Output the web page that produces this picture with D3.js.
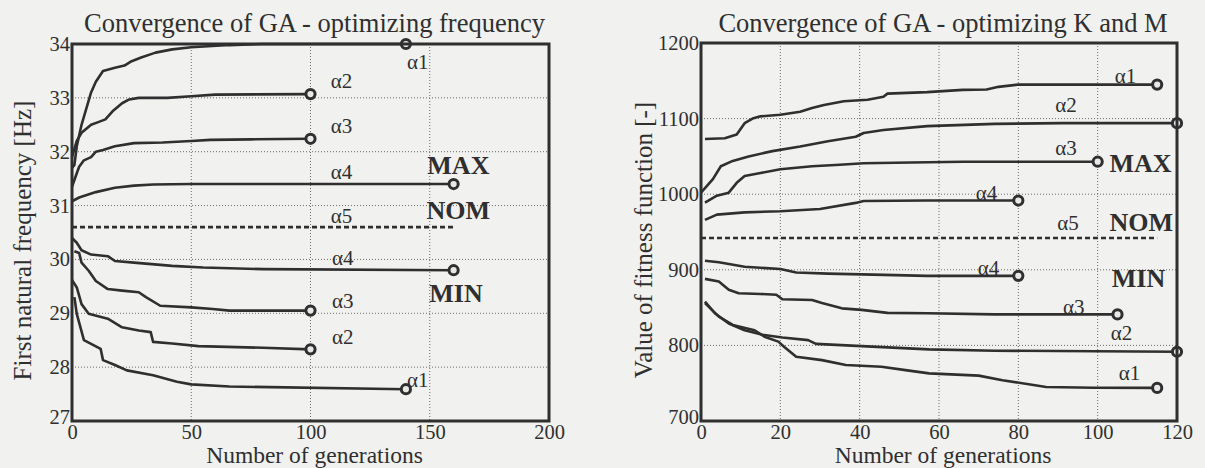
<!DOCTYPE html>
<html lang="en">
<head>
    <meta charset="UTF-8">
    <title>Convergence of GA</title>
    <script src="https://d3js.org/d3.v7.min.js"></script>
    <style>
        body { margin: 0; background: #f1f1f0; }
        svg { display: block; }
    </style>
</head>
<body>
    <svg id="chart"></svg>

    <script>
        // ---- data: [generation, value] ----
        // left panel - optimizing frequency [Hz]
        const freqMaxA1 = [[0,31.7],[1,31.75],[2,32.1],[4,32.5],[6,32.8],[8,33.1],[10,33.3],[13,33.5],[18,33.56],[22,33.6],[25,33.68],[29,33.75],[35,33.84],[42,33.9],[50,33.94],[66,33.98],[80,34.0],[140,34.0]];
        const freqMaxA2 = [[0,31.9],[2,32.2],[4,32.35],[8,32.5],[11,32.55],[14,32.6],[17,32.75],[21,32.9],[24,32.97],[28,33.0],[40,33.0],[50,33.03],[60,33.06],[100,33.07]];
        const freqMaxA3 = [[0,31.35],[2,31.6],[3,31.72],[5,31.84],[8,31.9],[10,32.0],[13,32.03],[18,32.1],[26,32.16],[38,32.17],[50,32.2],[58,32.22],[75,32.23],[100,32.24]];
        const freqMaxA4 = [[0,31.08],[3,31.15],[10,31.25],[18,31.33],[26,31.37],[34,31.39],[50,31.4],[160,31.4]];
        const freqNom = [[0,30.6],[160,30.6]];
        const freqMinA4 = [[0,30.4],[2,30.31],[4,30.17],[8,30.09],[15,30.06],[18,29.97],[26,29.94],[42,29.88],[55,29.85],[80,29.82],[160,29.8]];
        const freqMinA3 = [[1,30.15],[3,30.12],[4,29.94],[7,29.79],[10,29.6],[15,29.45],[21,29.42],[28,29.39],[31,29.3],[37,29.14],[50,29.11],[59,29.08],[66,29.05],[100,29.05]];
        const freqMinA2 = [[0,29.62],[2,29.48],[4,29.17],[7,28.99],[15,28.9],[21,28.74],[28,28.68],[33,28.65],[34,28.47],[42,28.44],[53,28.39],[80,28.36],[100,28.33]];
        const freqMinA1 = [[1,29.3],[2,28.99],[5,28.5],[12,28.34],[13,28.13],[18,28.04],[23,27.94],[34,27.85],[44,27.73],[50,27.68],[66,27.64],[140,27.59]];

        // right panel - optimizing K and M, fitness function [-]
        const fitMaxA1 = [[1,1073],[6,1074],[9,1079],[11,1094],[13,1100],[15,1103],[20,1105],[25,1109],[28,1114],[31,1118],[36,1123],[42,1125],[46,1129],[47,1133],[57,1135],[66,1138],[72,1138.5],[75,1142],[80,1145],[115,1145]];
        const fitMaxA2 = [[0,1002],[3,1020],[5,1037],[8,1044],[12,1050],[18,1057],[25,1063],[32,1070],[39,1076],[41,1081],[46,1085],[57,1090],[74,1093],[91,1094],[120,1094]];
        const fitMaxA3 = [[1,989],[4,998],[7,1002],[9,1015],[11,1024],[15,1028],[20,1033],[28,1037],[35,1039],[41,1041],[53,1042],[66,1043],[100,1043]];
        const fitMaxA4 = [[1,966],[4,973],[11,976],[20,977.5],[30,980.5],[39,988.5],[41,991],[57,991.6],[80,991.6]];
        const fitNom = [[0,942],[115,942]];
        const fitMinA4 = [[1,912],[4.5,910],[11,904],[20,901],[24,896.5],[32,895],[49,893],[57,892],[80,892]];
        const fitMinA3 = [[1,888],[4.5,884.5],[7,873.5],[9.5,869],[15,868],[19,867],[20.5,861],[28,860],[30.5,856],[35.5,849],[40.5,847],[47,843],[57,842.5],[74,841],[105,841]];
        const fitMinA2 = [[1,858],[3.5,842.5],[7,829],[11,820],[15.5,814],[20.5,810.5],[27,807],[29,802],[40.5,799],[57.5,794.7],[74,793],[120,791.6]];
        const fitMinA1 = [[1,856],[4.5,838],[8,827],[13.5,820],[16,811.5],[19.5,805],[21,798],[24,785],[30.5,780.5],[36.5,774],[45.5,771.7],[52,767],[57.5,763],[70,760],[76,754],[87,745],[99,744],[115,743.8]];

        // ticks
        const freqXTicks = [0, 50, 100, 150, 200];
        const freqYTicks = [27, 28, 29, 30, 31, 32, 33, 34];
        const fitXTicks = [0, 20, 40, 60, 80, 100, 120];
        const fitYTicks = [700, 800, 900, 1000, 1100, 1200];

        // annotations [text, generation, value]
        const freqLabels = [["α1",145,33.66],["α2",113,33.31],["α3",113,32.47],["α4",113,31.63],["α5",113,30.81],
                            ["α4",113.5,30.03],["α3",113.5,29.23],["α2",113.5,28.56],["α1",145,27.76]];
        const freqBounds = [["MAX",162,31.74],["NOM",162,30.9],["MIN",161,29.37]];
        const fitLabels = [["α1",107,1157],["α2",92,1118],["α3",92,1061],["α4",72,1001],["α5",92.5,962],
                           ["α4",72.5,902],["α3",94,851],["α2",106,816],["α1",108,763]];
        const fitBounds = [["MAX",110.8,1040],["NOM",111,962],["MIN",110.3,888]];

        const ink = "#2f2f2f";
        const serif = "'Liberation Serif', 'DejaVu Serif', serif";

        const svg = d3.select("#chart")
            .attr("width", 1205)
            .attr("height", 468);

        function drawPanel(p) {
            const x = d3.scaleLinear().domain(p.xDomain).range([p.left, p.right]);
            const y = d3.scaleLinear().domain(p.yDomain).range([p.bottom, p.top]);
            const g = svg.append("g");

            // dotted grid
            g.selectAll(".vgrid")
                .data(p.xTicks.slice(1, -1))
                .join("line")
                .attr("x1", d => x(d)).attr("x2", d => x(d))
                .attr("y1", p.top).attr("y2", p.bottom)
                .attr("stroke", "#6a6a6a").attr("stroke-width", 1)
                .attr("stroke-dasharray", "1,2");
            g.selectAll(".hgrid")
                .data(p.yTicks.slice(1, -1))
                .join("line")
                .attr("x1", p.left).attr("x2", p.right)
                .attr("y1", d => y(d)).attr("y2", d => y(d))
                .attr("stroke", "#6a6a6a").attr("stroke-width", 1)
                .attr("stroke-dasharray", "1,2");

            // axes (labels only)
            const xAxis = g.append("g")
                .attr("transform", `translate(0,${p.bottom})`)
                .call(d3.axisBottom(x).tickValues(p.xTicks).tickFormat(d3.format("d")).tickSize(0).tickPadding(3));
            const yAxis = g.append("g")
                .attr("transform", `translate(${p.left},0)`)
                .call(d3.axisLeft(y).tickValues(p.yTicks).tickFormat(d3.format("d")).tickSize(0).tickPadding(2));
            [xAxis, yAxis].forEach(a => {
                a.attr("font-family", serif).attr("font-size", 20.5);
                a.select(".domain").remove();
                a.selectAll("text").attr("fill", ink);
            });
            // lowest y label sits just above the x origin label, as in the figure
            yAxis.selectAll(".tick text").filter(d => d === p.yDomain[0]).attr("dy", "0.1em");

            const line = d3.line()
                .x(d => x(d[0]))
                .y(d => y(d[1]));

            p.series.forEach(s => {
                g.append("path")
                    .datum(s)
                    .attr("d", line)
                    .attr("fill", "none")
                    .attr("stroke", ink)
                    .attr("stroke-width", 2.6)
                    .attr("stroke-linejoin", "round");
                const last = s[s.length - 1];
                g.append("circle")
                    .attr("cx", x(last[0]))
                    .attr("cy", y(last[1]))
                    .attr("r", 4.6)
                    .attr("fill", "#e8e8e8")
                    .attr("stroke", ink)
                    .attr("stroke-width", 3);
            });

            g.append("path")
                .datum(p.nominal)
                .attr("d", line)
                .attr("fill", "none")
                .attr("stroke", ink)
                .attr("stroke-width", 2.6)
                .attr("stroke-dasharray", "5,3");

            // frame
            g.append("rect")
                .attr("x", p.left).attr("y", p.top)
                .attr("width", p.right - p.left)
                .attr("height", p.bottom - p.top)
                .attr("fill", "none")
                .attr("stroke", ink)
                .attr("stroke-width", 3);

            g.selectAll(".alpha")
                .data(p.labels)
                .join("text")
                .attr("x", d => x(d[1]))
                .attr("y", d => y(d[2]))
                .attr("text-anchor", "middle")
                .attr("dominant-baseline", "central")
                .attr("font-family", serif)
                .attr("font-size", 21)
                .attr("fill", ink)
                .text(d => d[0]);

            g.selectAll(".bound")
                .data(p.bounds)
                .join("text")
                .attr("x", d => x(d[1]))
                .attr("y", d => y(d[2]))
                .attr("text-anchor", "middle")
                .attr("dominant-baseline", "central")
                .attr("font-family", serif)
                .attr("font-weight", "bold")
                .attr("font-size", 26)
                .attr("fill", ink)
                .text(d => d[0]);

            // titles
            const cx = (p.left + p.right) / 2;
            g.append("text")
                .attr("x", cx + 4).attr("y", 32)
                .attr("text-anchor", "middle")
                .attr("font-family", serif).attr("font-size", 26.5)
                .attr("fill", ink)
                .text(p.title);
            g.append("text")
                .attr("x", cx + 4).attr("y", 462.5)
                .attr("text-anchor", "middle")
                .attr("font-family", serif).attr("font-size", 23.5)
                .attr("fill", ink)
                .text("Number of generations");
            g.append("text")
                .attr("transform", `translate(${p.yLabelX},${(p.top + p.bottom) / 2 + 8}) rotate(-90)`)
                .attr("text-anchor", "middle")
                .attr("font-family", serif).attr("font-size", 25)
                .attr("fill", ink)
                .text(p.yLabel);
        }

        drawPanel({
            left: 72, right: 549, top: 44, bottom: 421,
            xDomain: [0, 200], yDomain: [27, 34],
            xTicks: freqXTicks, yTicks: freqYTicks,
            series: [freqMaxA1, freqMaxA2, freqMaxA3, freqMaxA4, freqMinA4, freqMinA3, freqMinA2, freqMinA1],
            nominal: freqNom,
            labels: freqLabels, bounds: freqBounds,
            title: "Convergence of GA - optimizing frequency",
            yLabel: "First natural frequency [Hz]",
            yLabelX: 31
        });

        drawPanel({
            left: 701, right: 1177, top: 43, bottom: 421,
            xDomain: [0, 120], yDomain: [700, 1200],
            xTicks: fitXTicks, yTicks: fitYTicks,
            series: [fitMaxA1, fitMaxA2, fitMaxA3, fitMaxA4, fitMinA4, fitMinA3, fitMinA2, fitMinA1],
            nominal: fitNom,
            labels: fitLabels, bounds: fitBounds,
            title: "Convergence of GA - optimizing K and M",
            yLabel: "Value of fitness function [-]",
            yLabelX: 652
        });
    </script>
</body>
</html>
